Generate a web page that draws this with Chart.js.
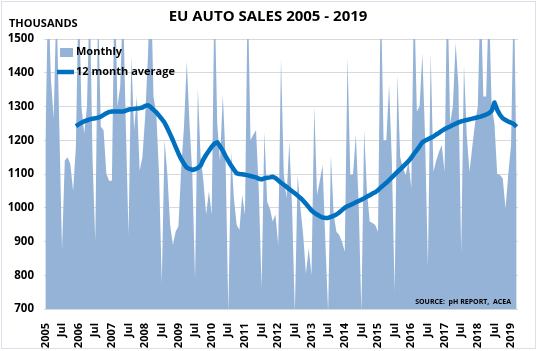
<!DOCTYPE html>
<html>
<head>
<meta charset="utf-8">
<title>EU Auto Sales 2005 - 2019</title>
<script src="https://cdn.jsdelivr.net/npm/chart.js@4.4.1/dist/chart.umd.min.js"></script>
<style>
  html, body { margin: 0; padding: 0; background: #fff; }
  #wrap { width: 537px; height: 351px; position: relative; }
</style>
</head>
<body>
<div id="wrap"><canvas id="salesChart"></canvas></div>
<script>
// Years on the axis (Jan of each year gets the year label, Jul gets "Jul")
const years = [2005, 2006, 2007, 2008, 2009, 2010, 2011, 2012, 2013, 2014, 2015, 2016, 2017, 2018, 2019];

// Monthly registrations, thousands (Jan 2005 - Mar 2019)
const monthly = [
  1190, 1650, 1380, 1265, 1620, 1250,  875, 1140, 1150, 1130, 1050, 1180, // 2005
  1660, 1300, 1220, 1300, 1640, 1150,  900, 1600, 1240, 1230, 1100, 1080, // 2006
  1080, 1700, 1300, 1360, 1620, 1250,  919, 1450, 1230, 1330, 1110, 1150, // 2007
  1270, 1450, 1700, 1330, 1280, 1100,  777, 1200, 1100,  950,  890,  930, // 2008
   945, 1117, 1240, 1433, 1250, 1100,  790, 1354, 1150, 1080,  980, 1050, // 2009
   980, 1650, 1250, 1137, 1334, 1150,  690, 1166, 1030,  950,  934, 1038, // 2010
   979, 1650, 1200, 1216, 1230, 1050,  762, 1226, 1018,  998,  959,  980, // 2011
   890, 1444, 1100, 1028, 1196, 1000,  690, 1097, 1000,  920,  805,  880, // 2012
   801, 1300, 1038, 1080, 1127,  900,  690, 1156,  980,  929,  919,  900, // 2013
   870, 1447, 1097, 1100, 1216, 1018,  690, 1230, 1050,  959,  955,  949, // 2014
   929, 1650, 1200, 1200, 1364, 1137,  751, 1393, 1150, 1117, 1097, 1137, // 2015
  1058, 1650, 1285, 1300, 1458, 1200,  825, 1458, 1107, 1140, 1166, 1186, // 2016
  1107, 1680, 1250, 1300, 1488, 1364,  866, 1423, 1216, 1107, 1180, 1250, // 2017
  1300, 1650, 1330, 1330, 1620, 1300, 1250, 1100, 1097, 1087,  998, 1100, // 2018
  1186, 1650, 1100                                                        // 2019
];

// 12 month average, thousands (starts Dec 2005)
const average = [
  null, null, null, null, null, null, null, null, null, null, null, 1242, // 2005
  1247, 1252, 1256, 1259, 1262, 1264, 1265, 1267, 1270, 1275, 1280, 1284, // 2006
  1285, 1285, 1285, 1285, 1285, 1288, 1291, 1292, 1293, 1294, 1295, 1297, // 2007
  1302, 1304, 1298, 1290, 1283, 1273, 1263, 1252, 1236, 1218, 1200, 1180, // 2008
  1161, 1144, 1130, 1119, 1115, 1112, 1114, 1118, 1125, 1143, 1157, 1169, // 2009
  1181, 1190, 1194, 1182, 1169, 1153, 1139, 1125, 1113, 1102, 1100, 1099, // 2010
  1098, 1096, 1094, 1092, 1090, 1086, 1084, 1087, 1089, 1090, 1092, 1088, // 2011
  1081, 1074, 1068, 1062, 1055, 1049, 1043, 1036, 1029, 1021, 1012, 1002, // 2012
   992,  985,  980,  975,  971,  970,  970,  973,  976,  980,  986,  993, // 2013
  1000, 1005, 1008, 1012, 1016, 1020, 1024, 1028, 1033, 1037, 1042, 1046, // 2014
  1052, 1060, 1067, 1074, 1082, 1090, 1098, 1106, 1114, 1122, 1130, 1138, // 2015
  1148, 1160, 1171, 1182, 1194, 1199, 1203, 1207, 1211, 1217, 1222, 1228, // 2016
  1233, 1237, 1241, 1245, 1249, 1253, 1256, 1258, 1260, 1262, 1264, 1266, // 2017
  1268, 1270, 1273, 1276, 1280, 1287, 1312, 1290, 1275, 1265, 1260, 1255, // 2018
  1252, 1248, 1240                                                        // 2019
];

const yMin = 700, yMax = 1500, yStep = 100;

const labels = monthly.map((v, i) => {
  if (i % 12 === 0) return String(years[i / 12]);
  if (i % 12 === 6) return 'Jul';
  return '';
});

const FONT = "'Open Sans', 'DejaVu Sans', sans-serif";

// white background + thin frame, then title / legend / notes on top
const decorPlugin = {
  id: 'decor',
  beforeDraw(chart) {
    const ctx = chart.ctx;
    ctx.save();
    ctx.fillStyle = '#ffffff';
    ctx.fillRect(0, 0, chart.width, chart.height);
    ctx.restore();
  },
  afterDraw(chart) {
    const ctx = chart.ctx;
    const a = chart.chartArea;
    ctx.save();
    ctx.strokeStyle = '#d9e0ea';
    ctx.lineWidth = 1;
    ctx.strokeRect(1.5, 1.5, chart.width - 3, chart.height - 4);

    ctx.fillStyle = '#000';
    ctx.textBaseline = 'middle';
    ctx.textAlign = 'center';
    ctx.font = "bold 15px " + FONT;
    ctx.fillText('EU AUTO SALES 2005 - 2019', 268, 17);

    ctx.textAlign = 'left';
    ctx.font = "bold 11px " + FONT;
    ctx.fillText('THOUSANDS', 9, 24);

    // legend
    ctx.fillStyle = '#95b3d7';
    ctx.fillRect(a.left + 16, a.top + 9, 13, 9);
    ctx.strokeStyle = '#0070c0';
    ctx.lineWidth = 4.5;
    ctx.beginPath();
    ctx.moveTo(a.left + 13, a.top + 33);
    ctx.lineTo(a.left + 30, a.top + 33);
    ctx.stroke();
    ctx.fillStyle = '#000';
    ctx.font = "bold 11px " + FONT;
    ctx.fillText('Monthly', a.left + 32, a.top + 13);
    ctx.fillText('12 month average', a.left + 32, a.top + 33);

    ctx.textAlign = 'right';
    ctx.font = "bold 7px " + FONT;
    ctx.fillText('SOURCE:  pH REPORT,  ACEA', a.right - 7, a.bottom - 7);
    ctx.restore();
  }
};

const ctx = document.getElementById('salesChart').getContext('2d');
new Chart(ctx, {
  type: 'line',
  data: {
    labels: labels,
    datasets: [
      {
        label: 'Monthly',
        data: monthly,
        fill: 'start',
        backgroundColor: '#95b3d7',
        borderWidth: 0,
        pointRadius: 0,
        tension: 0,
        order: 2
      },
      {
        label: '12 month average',
        data: average,
        fill: false,
        borderColor: '#0070c0',
        borderWidth: 4.5,
        borderJoinStyle: 'round',
        pointRadius: 0,
        tension: 0,
        order: 1
      }
    ]
  },
  options: {
    responsive: true,
    maintainAspectRatio: false,
    animation: false,
    layout: { padding: { top: 39, right: 19, left: 4, bottom: 0 } },
    plugins: {
      legend: { display: false },
      title: { display: false },
      tooltip: { enabled: false }
    },
    scales: {
      x: {
        type: 'category',
        offset: true,
        grid: { display: false },
        border: { display: false },
        ticks: {
          autoSkip: false,
          minRotation: 90,
          maxRotation: 90,
          padding: 6,
          color: '#000',
          font: { family: FONT, size: 11, weight: 'bold' }
        },
        afterFit(scale) { scale.height = 42; }
      },
      y: {
        min: yMin,
        max: yMax,
        grid: { color: '#d9d9d9', lineWidth: 1, drawTicks: false },
        border: { display: false },
        ticks: {
          stepSize: yStep,
          padding: 10,
          color: '#000',
          font: { family: FONT, size: 11.5, weight: 'bold' },
          callback: (value) => String(value)
        },
        afterFit(scale) { scale.width = 40; }
      }
    }
  },
  plugins: [decorPlugin]
});
</script>
</body>
</html>
